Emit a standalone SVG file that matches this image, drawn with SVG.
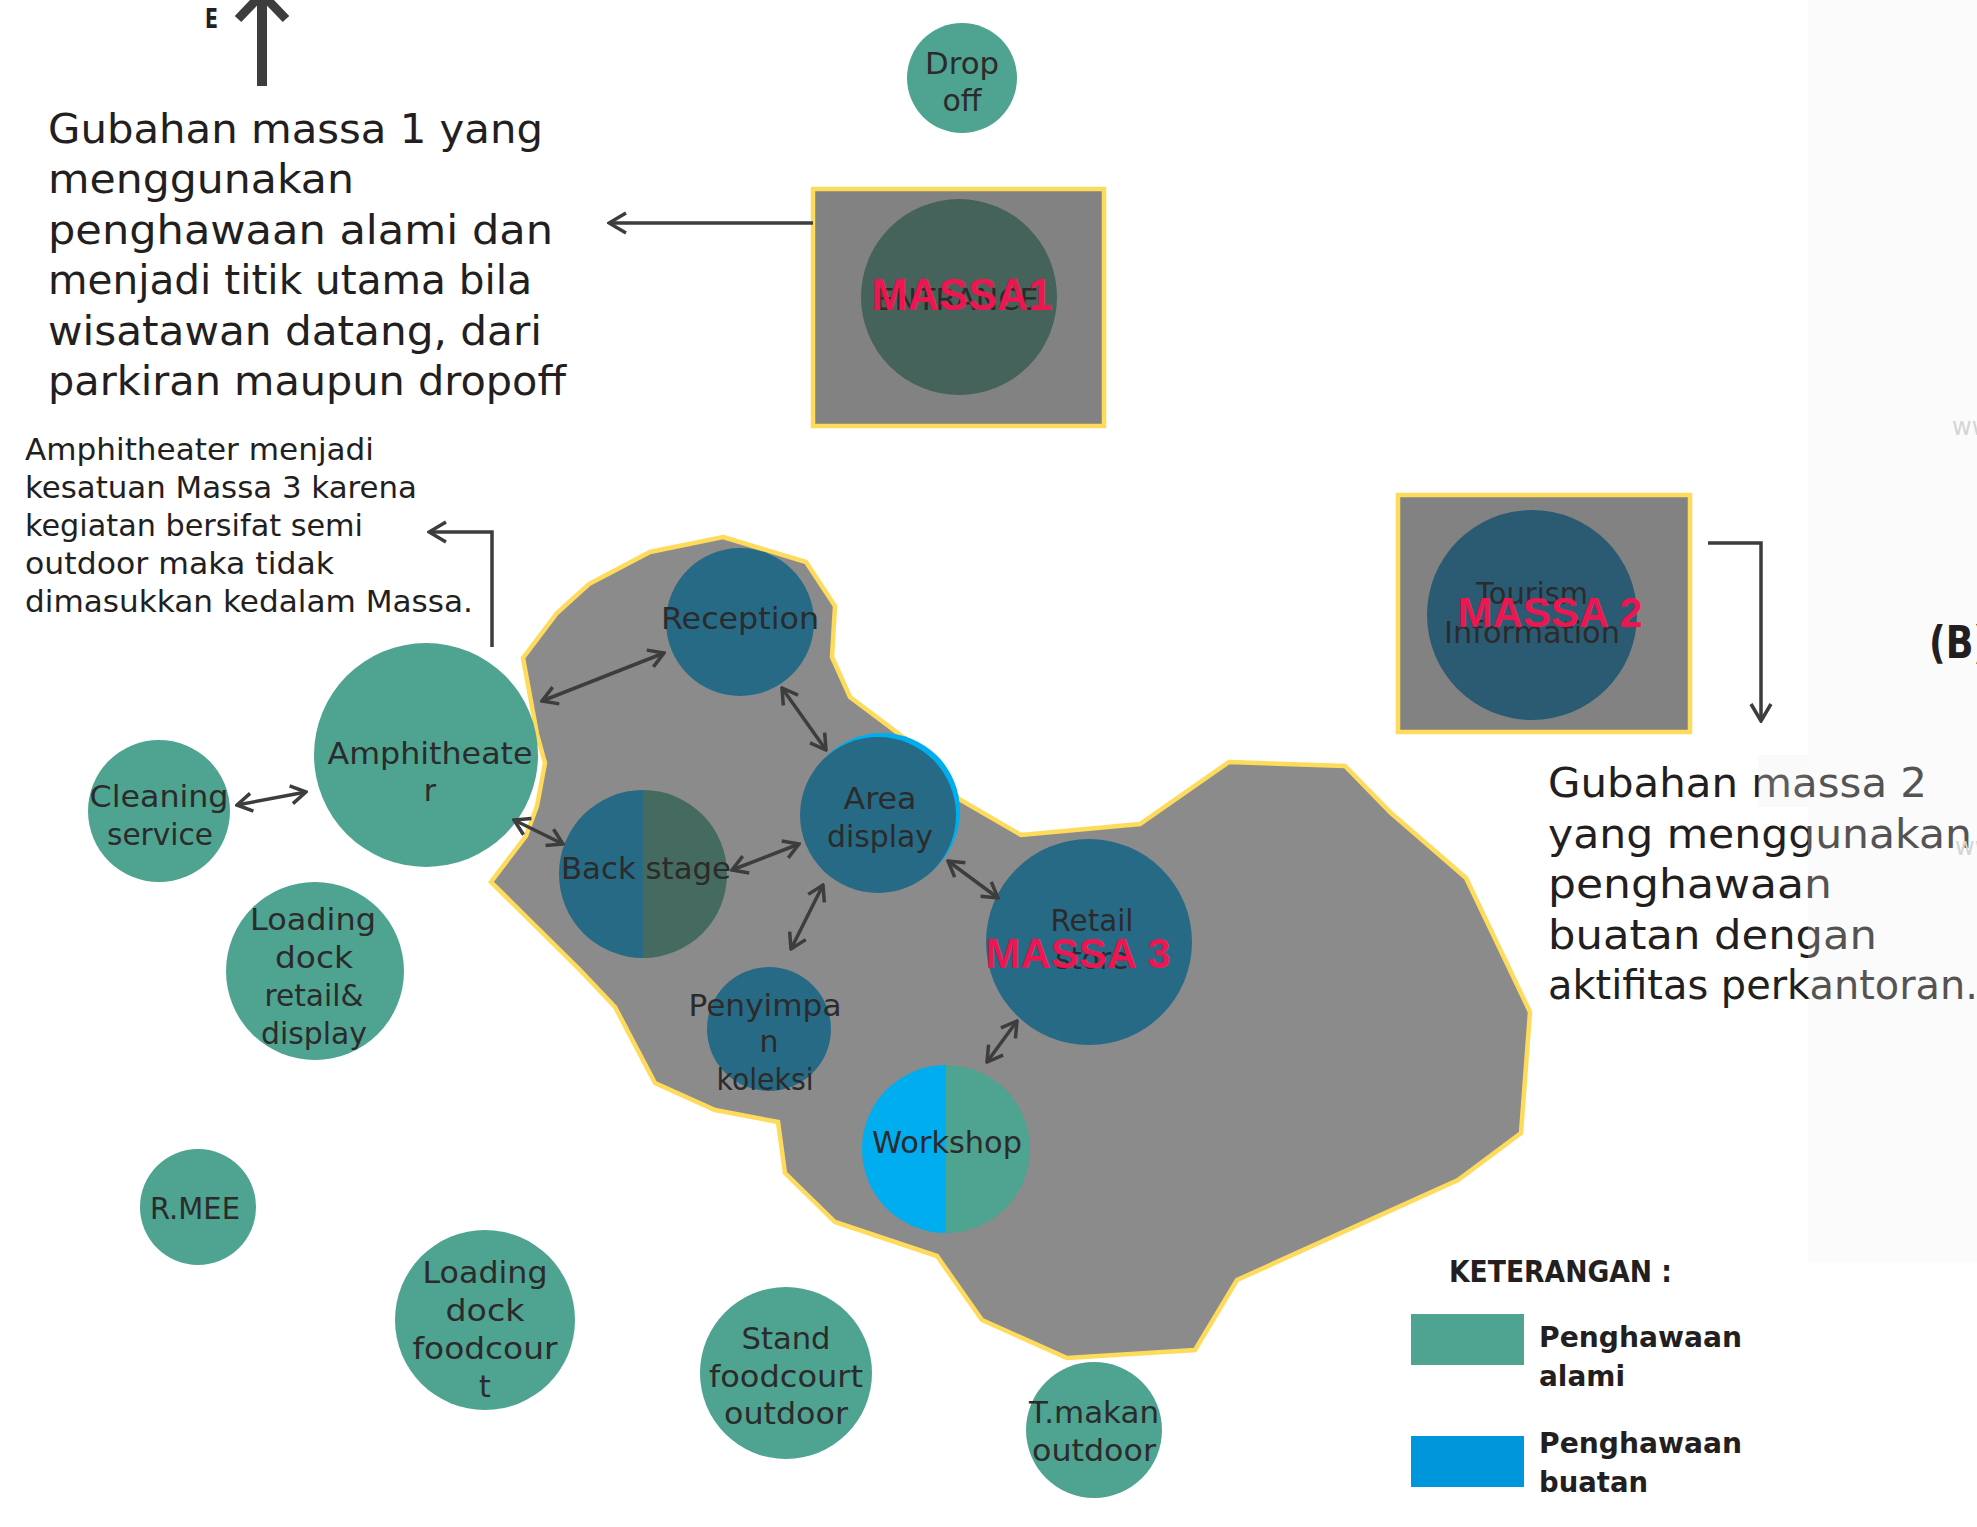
<svg xmlns="http://www.w3.org/2000/svg" width="1977" height="1527" viewBox="0 0 1977 1527">
<defs>
<style>
.lb{font-family:"DejaVu Sans","Liberation Sans",sans-serif;font-size:30px;fill:#2b2b2b;text-anchor:middle}
.par{font-family:"DejaVu Sans","Liberation Sans",sans-serif;font-size:41px;fill:#231f20}
.par2{font-family:"DejaVu Sans","Liberation Sans",sans-serif;font-size:31px;fill:#231f20}
.red{font-family:"Liberation Sans",Arial,sans-serif;font-weight:bold;fill:#ec1651;text-anchor:middle}
.leg{font-family:"DejaVu Sans","Liberation Sans",sans-serif;font-weight:bold;font-size:29px;fill:#231f20}
.green{fill:#4fa391}
.blue{fill:#276a86}
.conn{fill:none;stroke:#3d3d3d;stroke-width:3.5}
.box{fill:#828282;stroke:#ffdb5c;stroke-width:4.5}
</style>
<marker id="ah" viewBox="-17 -11 19 22" refX="0" refY="0" markerWidth="19" markerHeight="22" orient="auto-start-reverse" markerUnits="userSpaceOnUse">
<path d="M-15,-9 L0,0 L-15,9" fill="none" stroke="#3d3d3d" stroke-width="3.5"/>
</marker>
<marker id="ah2" viewBox="-19 -12 21 24" refX="0" refY="0" markerWidth="21" markerHeight="24" orient="auto" markerUnits="userSpaceOnUse">
<path d="M-17,-10 L0,0 L-17,10" fill="none" stroke="#3d3d3d" stroke-width="3.5"/>
</marker>
</defs>
<rect x="0" y="0" width="1977" height="1527" fill="#ffffff"/>

<g id="north-arrow">
<rect x="257" y="0" width="10" height="86" fill="#3d3d3d"/>
<polyline points="238,19 262,-6 286,19" fill="none" stroke="#3d3d3d" stroke-width="9"/>
<text x="205" y="28" font-family="DejaVu Sans,sans-serif" font-weight="bold" font-size="26" fill="#231f20" textLength="13" lengthAdjust="spacingAndGlyphs">E</text>
</g>

<g id="text-massa1">
<text class="par" x="48" y="143" textLength="495" lengthAdjust="spacingAndGlyphs">Gubahan massa 1 yang</text>
<text class="par" x="48" y="193" textLength="306" lengthAdjust="spacingAndGlyphs">menggunakan</text>
<text class="par" x="48" y="244" textLength="505" lengthAdjust="spacingAndGlyphs">penghawaan alami dan</text>
<text class="par" x="48" y="294" textLength="484" lengthAdjust="spacingAndGlyphs">menjadi titik utama bila</text>
<text class="par" x="48" y="345" textLength="494" lengthAdjust="spacingAndGlyphs">wisatawan datang, dari</text>
<text class="par" x="48" y="395" textLength="518" lengthAdjust="spacingAndGlyphs">parkiran maupun dropoff</text>
</g>

<g id="text-amphi">
<text class="par2" x="25" y="460" textLength="349" lengthAdjust="spacingAndGlyphs">Amphitheater menjadi</text>
<text class="par2" x="25" y="498" textLength="392" lengthAdjust="spacingAndGlyphs">kesatuan Massa 3 karena</text>
<text class="par2" x="25" y="536" textLength="338" lengthAdjust="spacingAndGlyphs">kegiatan bersifat semi</text>
<text class="par2" x="25" y="574" textLength="309" lengthAdjust="spacingAndGlyphs">outdoor maka tidak</text>
<text class="par2" x="25" y="612" textLength="448" lengthAdjust="spacingAndGlyphs">dimasukkan kedalam Massa.</text>
</g>

<g id="text-massa2">
<text class="par" x="1548" y="797" textLength="379" lengthAdjust="spacingAndGlyphs">Gubahan massa 2</text>
<text class="par" x="1548" y="848" textLength="424" lengthAdjust="spacingAndGlyphs">yang menggunakan</text>
<text class="par" x="1548" y="898" textLength="284" lengthAdjust="spacingAndGlyphs">penghawaan</text>
<text class="par" x="1548" y="949" textLength="329" lengthAdjust="spacingAndGlyphs">buatan dengan</text>
<text class="par" x="1548" y="999" textLength="430" lengthAdjust="spacingAndGlyphs">aktifitas perkantoran.</text>
</g>

<g id="drop-off">
<circle class="green" cx="962" cy="78" r="55"/>
<text class="lb" x="962" y="74" textLength="74" lengthAdjust="spacingAndGlyphs">Drop</text>
<text class="lb" x="962" y="111" textLength="39" lengthAdjust="spacingAndGlyphs">off</text>
</g>

<g id="massa-1">
<rect class="box" x="813" y="189" width="291" height="237"/>
<circle cx="959" cy="297" r="98" fill="#45635b"/>
<text class="lb" x="957" y="310" font-size="32" fill="#2e3a37" textLength="163" lengthAdjust="spacingAndGlyphs">ENTRANCE</text>
<text class="red" x="962" y="310" font-size="44" textLength="181" lengthAdjust="spacingAndGlyphs">MASSA1</text>
</g>

<g id="massa-2">
<rect class="box" x="1398" y="495" width="292" height="237"/>
<circle cx="1532" cy="615" r="105" fill="#2b5b73"/>
<text class="lb" x="1532" y="604" fill="#222" textLength="112" lengthAdjust="spacingAndGlyphs">Tourism</text>
<text class="lb" x="1532" y="643" fill="#222" textLength="176" lengthAdjust="spacingAndGlyphs">Information</text>
<text class="red" x="1550" y="627" font-size="42" textLength="185" lengthAdjust="spacingAndGlyphs">MASSA 2</text>
</g>

<g id="massa-3">
<polygon points="723,537 806,562 835,606 832,657 850,697 923,752 959,799 1021,835 1140,824 1229,762 1345,766 1391,813 1466,878 1530,1012 1521,1133 1458,1180 1237,1280 1195,1350 1067,1358 982,1320 937,1256 835,1222 785,1173 778,1122 715,1110 655,1083 615,1007 580,970 491,882 526,836 537,806 545,763 537,734 523,658 557,613 589,584 650,552" fill="#8b8b8b" stroke="#ffdb5c" stroke-width="4.5" stroke-linejoin="miter"/>
</g>

<g id="reception">
<circle class="blue" cx="740" cy="622" r="74"/>
<text class="lb" x="740" y="629" fill="#333" textLength="158" lengthAdjust="spacingAndGlyphs">Reception</text>
</g>

<g id="area-display">
<circle cx="882" cy="811" r="78" fill="#00adef"/>
<circle class="blue" cx="878" cy="815" r="78"/>
<text class="lb" x="880" y="809" fill="#333" textLength="73" lengthAdjust="spacingAndGlyphs">Area</text>
<text class="lb" x="880" y="847" fill="#333" textLength="106" lengthAdjust="spacingAndGlyphs">display</text>
</g>

<g id="back-stage">
<path d="M643,790 A84,84 0 0 0 643,958 Z" fill="#276a86"/>
<path d="M643,790 A84,84 0 0 1 643,958 Z" fill="#456a60"/>
<text class="lb" x="646" y="879" fill="#333" textLength="170" lengthAdjust="spacingAndGlyphs">Back stage</text>
</g>

<g id="penyimpanan-koleksi">
<circle class="blue" cx="769" cy="1029" r="62"/>
<text class="lb" x="765" y="1016" fill="#333" textLength="153" lengthAdjust="spacingAndGlyphs">Penyimpa</text>
<text class="lb" x="769" y="1052" fill="#333">n</text>
<text class="lb" x="765" y="1090" fill="#333" textLength="97" lengthAdjust="spacingAndGlyphs">koleksi</text>
</g>

<g id="retail-store">
<circle class="blue" cx="1089" cy="942" r="103"/>
<text class="lb" x="1092" y="931" fill="#333" textLength="83" lengthAdjust="spacingAndGlyphs">Retail</text>
<text class="lb" x="1092" y="969" fill="#333" textLength="73" lengthAdjust="spacingAndGlyphs">store</text>
<text class="red" x="1078" y="968" font-size="42" textLength="185" lengthAdjust="spacingAndGlyphs">MASSA 3</text>
</g>

<g id="workshop">
<path d="M946,1065 A84,84 0 0 0 946,1233 Z" fill="#00adef"/>
<path d="M946,1065 A84,84 0 0 1 946,1233 Z" fill="#4fa391"/>
<text class="lb" x="947" y="1153" fill="#222" textLength="150" lengthAdjust="spacingAndGlyphs">Workshop</text>
</g>

<g id="amphitheater">
<circle class="green" cx="426" cy="755" r="112"/>
<text class="lb" x="430" y="764" textLength="205" lengthAdjust="spacingAndGlyphs">Amphitheate</text>
<text class="lb" x="430" y="801">r</text>
</g>

<g id="cleaning-service">
<circle class="green" cx="159" cy="811" r="71"/>
<text class="lb" x="159" y="807" textLength="139" lengthAdjust="spacingAndGlyphs">Cleaning</text>
<text class="lb" x="160" y="845" textLength="106" lengthAdjust="spacingAndGlyphs">service</text>
</g>

<g id="loading-dock-retail">
<circle class="green" cx="315" cy="971" r="89"/>
<text class="lb" x="313" y="930" fill="#222" textLength="126" lengthAdjust="spacingAndGlyphs">Loading</text>
<text class="lb" x="314" y="968" fill="#222" textLength="78" lengthAdjust="spacingAndGlyphs">dock</text>
<text class="lb" x="314" y="1006" fill="#222" textLength="99" lengthAdjust="spacingAndGlyphs">retail&amp;</text>
<text class="lb" x="314" y="1044" fill="#222" textLength="106" lengthAdjust="spacingAndGlyphs">display</text>
</g>

<g id="r-mee">
<circle class="green" cx="198" cy="1207" r="58"/>
<text class="lb" x="195" y="1219" fill="#222" textLength="90" lengthAdjust="spacingAndGlyphs">R.MEE</text>
</g>

<g id="loading-dock-foodcourt">
<circle class="green" cx="485" cy="1320" r="90"/>
<text class="lb" x="485" y="1283" fill="#222" textLength="125" lengthAdjust="spacingAndGlyphs">Loading</text>
<text class="lb" x="485" y="1321" fill="#222" textLength="79" lengthAdjust="spacingAndGlyphs">dock</text>
<text class="lb" x="485" y="1359" fill="#222" textLength="145" lengthAdjust="spacingAndGlyphs">foodcour</text>
<text class="lb" x="485" y="1397" fill="#222">t</text>
</g>

<g id="stand-foodcourt">
<circle class="green" cx="786" cy="1373" r="86"/>
<text class="lb" x="786" y="1349" fill="#222" textLength="89" lengthAdjust="spacingAndGlyphs">Stand</text>
<text class="lb" x="786" y="1387" fill="#222" textLength="154" lengthAdjust="spacingAndGlyphs">foodcourt</text>
<text class="lb" x="786" y="1424" fill="#222" textLength="124" lengthAdjust="spacingAndGlyphs">outdoor</text>
</g>

<g id="t-makan">
<circle class="green" cx="1094" cy="1430" r="68"/>
<text class="lb" x="1094" y="1423" fill="#222" textLength="130" lengthAdjust="spacingAndGlyphs">T.makan</text>
<text class="lb" x="1094" y="1461" fill="#222" textLength="124" lengthAdjust="spacingAndGlyphs">outdoor</text>
</g>

<g id="connectors">
<line class="conn" x1="237" y1="805" x2="306" y2="792" marker-start="url(#ah)" marker-end="url(#ah)"/>
<line class="conn" x1="542" y1="701" x2="664" y2="653" marker-start="url(#ah)" marker-end="url(#ah)"/>
<line class="conn" x1="782" y1="688" x2="826" y2="750" marker-start="url(#ah)" marker-end="url(#ah)"/>
<line class="conn" x1="514" y1="820" x2="563" y2="844" marker-start="url(#ah)" marker-end="url(#ah)"/>
<line class="conn" x1="732" y1="870" x2="799" y2="844" marker-start="url(#ah)" marker-end="url(#ah)"/>
<line class="conn" x1="823" y1="885" x2="791" y2="949" marker-start="url(#ah)" marker-end="url(#ah)"/>
<line class="conn" x1="948" y1="861" x2="998" y2="898" marker-start="url(#ah)" marker-end="url(#ah)"/>
<line class="conn" x1="1017" y1="1021" x2="987" y2="1062" marker-start="url(#ah)" marker-end="url(#ah)"/>
<line class="conn" x1="813" y1="223" x2="609" y2="223" marker-end="url(#ah2)"/>
<polyline class="conn" points="492,647 492,532 429,532" marker-end="url(#ah2)"/>
<polyline class="conn" points="1708,543 1761,543 1761,721" marker-end="url(#ah2)"/>
</g>

<g id="legend">
<text x="1449" y="1282" font-family="DejaVu Sans,sans-serif" font-weight="bold" font-size="30" fill="#231f20" textLength="223" lengthAdjust="spacingAndGlyphs">KETERANGAN :</text>
<rect x="1411" y="1314" width="113" height="51" fill="#4fa391"/>
<rect x="1411" y="1436" width="113" height="51" fill="#0096db"/>
<text class="leg" x="1539" y="1347" textLength="203" lengthAdjust="spacingAndGlyphs">Penghawaan</text>
<text class="leg" x="1539" y="1386" textLength="86" lengthAdjust="spacingAndGlyphs">alami</text>
<text class="leg" x="1539" y="1453" textLength="203" lengthAdjust="spacingAndGlyphs">Penghawaan</text>
<text class="leg" x="1539" y="1492" textLength="109" lengthAdjust="spacingAndGlyphs">buatan</text>
</g>

<g id="watermark-panel">
<rect x="1808" y="0" width="169" height="1262" fill="#f0f0f0" opacity="0.25"/>
<rect x="1758" y="755" width="50" height="52" fill="#f0f0f0" opacity="0.3"/>
<text x="1952" y="435" font-family="DejaVu Sans,sans-serif" font-size="24" fill="#d4d4d4">www</text>
<text x="1955" y="855" font-family="DejaVu Sans,sans-serif" font-size="24" fill="#d4d4d4">www</text>
</g>

<text x="1929" y="658" font-family="DejaVu Sans,sans-serif" font-weight="bold" font-size="44" fill="#231f20" textLength="61" lengthAdjust="spacingAndGlyphs">(B)</text>
</svg>
